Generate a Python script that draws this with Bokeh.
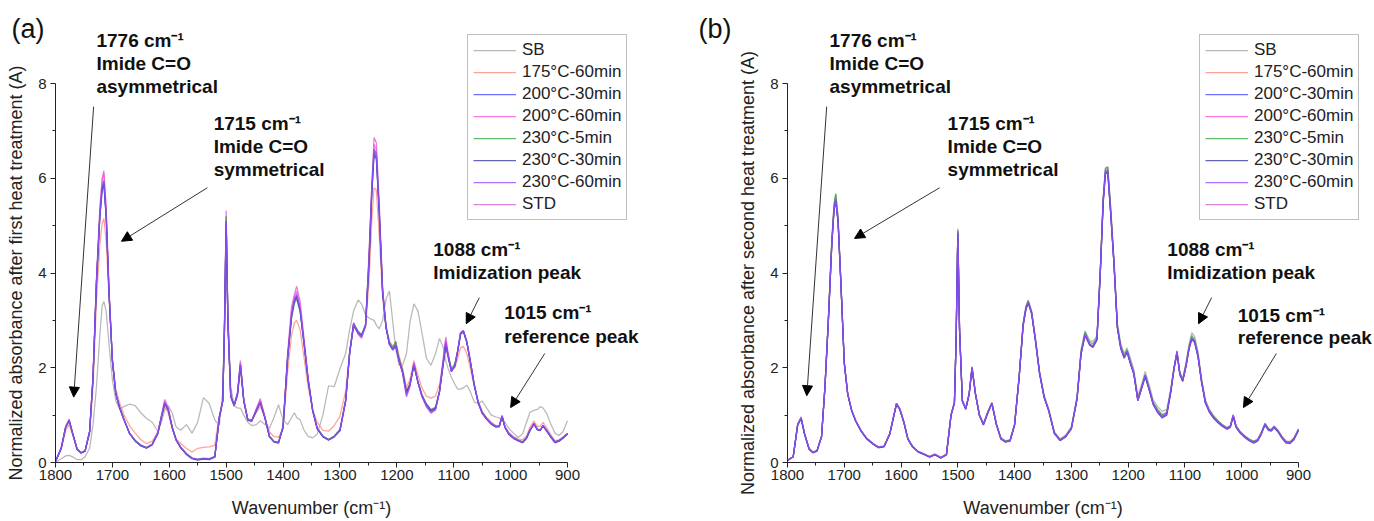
from bokeh.plotting import figure
from bokeh.models import (Range1d, FixedTicker, Legend, LegendItem, Label, Arrow,
                          NormalHead, ColumnDataSource)
from bokeh.layouts import row
from bokeh.embed import file_html
from bokeh.resources import INLINE

# ---------------- data ----------------
WAVENUMBER = [
    1800, 1790, 1782, 1776, 1770, 1762, 1755, 1748, 1740, 1734,
    1728, 1722, 1718, 1715, 1711, 1706, 1700, 1694, 1687, 1680,
    1670, 1660, 1650, 1640, 1630, 1620, 1614, 1608, 1602, 1595,
    1588, 1580, 1570, 1560, 1550, 1540, 1530, 1520, 1512, 1506,
    1503, 1500, 1497, 1492, 1486, 1480, 1475, 1469, 1462, 1455,
    1447, 1440, 1432, 1424, 1416, 1408, 1400, 1392, 1385, 1380,
    1376, 1370, 1363, 1356, 1348, 1340, 1330, 1320, 1310, 1300,
    1290, 1283, 1276, 1268, 1262, 1255, 1249, 1244, 1240, 1236,
    1231, 1225, 1219, 1213, 1207, 1202, 1196, 1190, 1183, 1177,
    1170, 1163, 1156, 1148, 1140, 1132, 1125, 1119, 1114, 1109,
    1104, 1098, 1093, 1088, 1083, 1077, 1071, 1064, 1057, 1050,
    1042, 1034, 1026, 1020, 1015, 1010, 1003, 995, 987, 979,
    972, 966, 959, 953, 948, 943, 936, 929, 922, 915,
    908, 900]

SERIES = ["SB", "175°C-60min", "200°C-30min", "200°C-60min",
          "230°C-5min", "230°C-30min", "230°C-60min", "STD"]

# ---- panel (a): after first heat treatment ----
SB_A = [
    0.00, 0.08, 0.14, 0.15, 0.12, 0.06, 0.06, 0.12, 0.30, 0.80,
    1.60, 2.70, 3.30, 3.40, 3.20, 2.50, 1.75, 1.30, 1.12, 1.18,
    1.23, 1.20, 1.05, 0.93, 0.85, 0.66, 0.85, 1.10, 1.20, 1.05,
    0.75, 0.68, 0.80, 0.62, 0.85, 1.37, 1.25, 0.90, 0.78, 1.50,
    3.00, 5.10, 3.20, 1.60, 1.20, 1.15, 1.15, 1.00, 0.85, 0.78,
    0.80, 0.88, 0.80, 0.72, 0.95, 1.22, 0.90, 0.80, 0.95, 1.05,
    0.95, 0.90, 0.68, 0.55, 0.52, 0.60, 1.00, 1.62, 1.60, 1.98,
    2.30, 2.80, 3.20, 3.43, 3.35, 3.12, 3.05, 3.02, 3.00, 2.90,
    2.82, 3.00, 3.45, 3.62, 2.95, 2.40, 2.05, 2.05, 2.30, 2.95,
    3.35, 3.20, 2.75, 2.20, 2.05, 2.30, 2.62, 2.45, 2.15, 1.95,
    1.80, 1.65, 1.55, 1.55, 1.58, 1.63, 1.50, 1.28, 1.24, 1.30,
    1.15, 1.00, 0.96, 0.94, 0.92, 0.85, 0.72, 0.62, 0.53, 0.60,
    0.85, 1.06, 1.10, 1.12, 1.18, 1.15, 1.02, 0.80, 0.62, 0.57,
    0.65, 0.88]
T175_60_A = [
    0.02, 0.28, 0.68, 0.80, 0.58, 0.28, 0.21, 0.25, 0.60, 1.60,
    3.40, 4.60, 5.05, 5.15, 4.70, 3.50, 2.20, 1.55, 1.25, 1.02,
    0.78, 0.62, 0.48, 0.40, 0.45, 0.65, 0.95, 1.18, 1.05, 0.72,
    0.50, 0.40, 0.30, 0.22, 0.30, 0.32, 0.33, 0.36, 1.00, 1.30,
    2.70, 4.80, 2.90, 1.45, 1.22, 1.40, 2.00, 1.30, 0.92, 0.90,
    1.05, 1.18, 0.95, 0.65, 0.55, 0.53, 0.70, 1.90, 2.70, 2.95,
    3.00, 2.80, 2.20, 1.60, 1.12, 0.85, 0.68, 0.66, 0.78, 0.98,
    1.50, 2.35, 2.85, 2.75, 2.70, 2.85, 3.80, 5.10, 5.80, 5.75,
    4.80, 3.50, 2.85, 2.55, 2.45, 2.55, 2.25, 2.00, 1.58, 1.75,
    2.15, 1.85, 1.58, 1.40, 1.36, 1.40, 1.65, 2.10, 2.42, 2.15,
    1.95, 2.00, 2.20, 2.42, 2.45, 2.30, 2.00, 1.60, 1.30, 1.08,
    0.95, 0.85, 0.78, 0.78, 0.95, 0.76, 0.64, 0.55, 0.50, 0.48,
    0.56, 0.75, 0.88, 0.76, 0.76, 0.85, 0.72, 0.58, 0.46, 0.48,
    0.54, 0.62]
T200_30_A = [
    0.02, 0.30, 0.75, 0.88, 0.62, 0.28, 0.20, 0.24, 0.65, 1.80,
    3.80, 5.20, 5.75, 5.88, 5.20, 3.60, 2.15, 1.45, 1.15, 0.92,
    0.62, 0.46, 0.36, 0.31, 0.38, 0.62, 0.95, 1.25, 1.12, 0.75,
    0.48, 0.32, 0.18, 0.09, 0.06, 0.08, 0.07, 0.12, 0.95, 1.30,
    2.80, 5.10, 3.00, 1.40, 1.20, 1.45, 2.05, 1.30, 0.90, 0.88,
    1.10, 1.27, 0.95, 0.55, 0.44, 0.42, 0.75, 2.20, 3.10, 3.40,
    3.50, 3.20, 2.50, 1.75, 1.10, 0.72, 0.55, 0.48, 0.55, 0.68,
    1.30, 2.30, 2.92, 2.75, 2.68, 2.90, 4.20, 5.70, 6.55, 6.45,
    5.30, 3.60, 2.85, 2.50, 2.38, 2.47, 2.15, 1.92, 1.48, 1.65,
    2.06, 1.70, 1.42, 1.22, 1.10, 1.15, 1.50, 2.05, 2.52, 2.20,
    1.93, 2.05, 2.35, 2.72, 2.78, 2.55, 2.15, 1.65, 1.27, 1.05,
    0.92, 0.82, 0.76, 0.76, 0.98, 0.75, 0.60, 0.52, 0.47, 0.43,
    0.52, 0.68, 0.82, 0.70, 0.68, 0.78, 0.66, 0.54, 0.43, 0.46,
    0.52, 0.61]
T200_60_A = [
    0.02, 0.30, 0.76, 0.90, 0.62, 0.28, 0.20, 0.24, 0.65, 1.82,
    3.85, 5.30, 5.95, 6.10, 5.35, 3.65, 2.15, 1.45, 1.15, 0.92,
    0.62, 0.46, 0.36, 0.31, 0.38, 0.63, 0.97, 1.30, 1.15, 0.75,
    0.48, 0.32, 0.18, 0.09, 0.06, 0.08, 0.07, 0.12, 0.95, 1.30,
    2.85, 5.20, 3.05, 1.40, 1.20, 1.47, 2.12, 1.32, 0.90, 0.88,
    1.12, 1.32, 0.96, 0.55, 0.44, 0.42, 0.76, 2.25, 3.18, 3.50,
    3.62, 3.30, 2.55, 1.77, 1.10, 0.72, 0.55, 0.48, 0.55, 0.68,
    1.30, 2.30, 2.95, 2.72, 2.65, 2.90, 4.30, 5.85, 6.72, 6.60,
    5.40, 3.65, 2.85, 2.50, 2.40, 2.50, 2.15, 1.90, 1.42, 1.62,
    2.10, 1.70, 1.40, 1.18, 1.06, 1.12, 1.50, 2.10, 2.60, 2.22,
    1.92, 2.05, 2.36, 2.74, 2.78, 2.55, 2.15, 1.64, 1.26, 1.04,
    0.91, 0.81, 0.75, 0.76, 0.99, 0.74, 0.59, 0.51, 0.46, 0.42,
    0.51, 0.68, 0.82, 0.70, 0.68, 0.78, 0.66, 0.53, 0.42, 0.45,
    0.51, 0.60]
T230_5_A = [
    0.02, 0.30, 0.75, 0.89, 0.62, 0.28, 0.21, 0.25, 0.66, 1.80,
    3.80, 5.25, 5.82, 5.95, 5.25, 3.62, 2.16, 1.46, 1.16, 0.93,
    0.63, 0.47, 0.37, 0.32, 0.39, 0.62, 0.95, 1.26, 1.12, 0.75,
    0.48, 0.33, 0.19, 0.10, 0.07, 0.09, 0.08, 0.13, 0.96, 1.30,
    2.82, 5.20, 3.02, 1.41, 1.21, 1.45, 2.06, 1.31, 0.91, 0.89,
    1.10, 1.27, 0.95, 0.56, 0.45, 0.43, 0.75, 2.18, 3.05, 3.36,
    3.45, 3.18, 2.50, 1.75, 1.11, 0.73, 0.56, 0.49, 0.56, 0.70,
    1.32, 2.32, 2.93, 2.78, 2.70, 2.92, 4.25, 5.78, 6.62, 6.50,
    5.35, 3.62, 2.88, 2.55, 2.42, 2.55, 2.20, 1.95, 1.50, 1.66,
    2.05, 1.72, 1.44, 1.24, 1.12, 1.17, 1.50, 2.00, 2.42, 2.25,
    1.98, 2.08, 2.35, 2.70, 2.76, 2.53, 2.14, 1.65, 1.28, 1.06,
    0.93, 0.83, 0.77, 0.77, 0.97, 0.76, 0.61, 0.53, 0.48, 0.44,
    0.53, 0.69, 0.81, 0.71, 0.69, 0.77, 0.67, 0.55, 0.44, 0.47,
    0.53, 0.62]
T230_30_A = [
    0.02, 0.30, 0.75, 0.88, 0.62, 0.28, 0.20, 0.24, 0.65, 1.78,
    3.78, 5.18, 5.76, 5.90, 5.20, 3.58, 2.14, 1.45, 1.14, 0.91,
    0.61, 0.45, 0.35, 0.30, 0.37, 0.61, 0.94, 1.24, 1.11, 0.74,
    0.47, 0.31, 0.17, 0.08, 0.05, 0.07, 0.06, 0.11, 0.94, 1.29,
    2.78, 5.05, 2.98, 1.39, 1.19, 1.44, 2.04, 1.29, 0.89, 0.87,
    1.09, 1.26, 0.94, 0.54, 0.43, 0.41, 0.74, 2.20, 3.10, 3.42,
    3.52, 3.22, 2.50, 1.74, 1.09, 0.71, 0.54, 0.47, 0.54, 0.67,
    1.29, 2.29, 2.90, 2.73, 2.66, 2.88, 4.15, 5.65, 6.50, 6.40,
    5.25, 3.58, 2.84, 2.49, 2.37, 2.46, 2.14, 1.91, 1.47, 1.64,
    2.05, 1.69, 1.41, 1.21, 1.09, 1.14, 1.49, 2.04, 2.50, 2.19,
    1.92, 2.04, 2.34, 2.71, 2.77, 2.54, 2.14, 1.64, 1.26, 1.04,
    0.91, 0.81, 0.75, 0.75, 0.97, 0.74, 0.59, 0.51, 0.46, 0.42,
    0.51, 0.67, 0.81, 0.69, 0.67, 0.77, 0.65, 0.53, 0.42, 0.45,
    0.51, 0.60]
T230_60_A = [
    0.02, 0.30, 0.75, 0.89, 0.62, 0.28, 0.20, 0.24, 0.65, 1.80,
    3.82, 5.25, 5.82, 5.95, 5.25, 3.62, 2.15, 1.45, 1.15, 0.92,
    0.62, 0.46, 0.36, 0.31, 0.38, 0.62, 0.96, 1.27, 1.13, 0.75,
    0.48, 0.32, 0.18, 0.09, 0.06, 0.08, 0.07, 0.12, 0.95, 1.30,
    2.80, 5.10, 3.00, 1.40, 1.20, 1.46, 2.08, 1.31, 0.90, 0.88,
    1.11, 1.29, 0.96, 0.55, 0.44, 0.42, 0.75, 2.22, 3.13, 3.45,
    3.55, 3.24, 2.52, 1.76, 1.10, 0.72, 0.55, 0.48, 0.55, 0.68,
    1.30, 2.30, 2.92, 2.74, 2.66, 2.90, 4.25, 5.75, 6.62, 6.50,
    5.33, 3.61, 2.85, 2.50, 2.38, 2.48, 2.14, 1.90, 1.42, 1.62,
    2.08, 1.70, 1.41, 1.20, 1.05, 1.12, 1.49, 2.06, 2.55, 2.21,
    1.93, 2.05, 2.36, 2.73, 2.78, 2.55, 2.15, 1.65, 1.27, 1.05,
    0.92, 0.82, 0.76, 0.76, 0.98, 0.75, 0.60, 0.52, 0.47, 0.43,
    0.52, 0.68, 0.82, 0.70, 0.68, 0.78, 0.66, 0.54, 0.43, 0.46,
    0.52, 0.61]
STD_A = [
    0.02, 0.31, 0.77, 0.92, 0.63, 0.28, 0.20, 0.24, 0.66, 1.85,
    3.90, 5.40, 6.00, 6.16, 5.40, 3.70, 2.18, 1.46, 1.15, 0.92,
    0.62, 0.46, 0.36, 0.31, 0.38, 0.64, 0.99, 1.33, 1.17, 0.76,
    0.48, 0.32, 0.18, 0.09, 0.06, 0.08, 0.07, 0.12, 0.96, 1.32,
    2.90, 5.32, 3.10, 1.42, 1.21, 1.50, 2.15, 1.33, 0.90, 0.88,
    1.14, 1.35, 0.97, 0.55, 0.44, 0.42, 0.78, 2.30, 3.30, 3.55,
    3.72, 3.40, 2.60, 1.80, 1.12, 0.72, 0.55, 0.48, 0.55, 0.68,
    1.30, 2.32, 2.95, 2.70, 2.62, 2.90, 4.40, 5.85, 6.86, 6.75,
    5.50, 3.70, 2.86, 2.50, 2.40, 2.55, 2.15, 1.88, 1.38, 1.60,
    2.12, 1.70, 1.40, 1.17, 1.04, 1.11, 1.50, 2.15, 2.65, 2.24,
    1.92, 2.05, 2.37, 2.75, 2.78, 2.55, 2.15, 1.64, 1.26, 1.04,
    0.91, 0.81, 0.75, 0.76, 1.00, 0.74, 0.59, 0.51, 0.46, 0.42,
    0.51, 0.68, 0.83, 0.70, 0.68, 0.79, 0.66, 0.53, 0.42, 0.45,
    0.51, 0.60]

# ---- panel (b): after second heat treatment ----
SB_B = [
    0.04, 0.12, 0.82, 0.97, 0.63, 0.30, 0.22, 0.26, 0.56, 1.62,
    3.05, 4.70, 5.45, 5.67, 5.20, 3.85, 2.12, 1.46, 1.11, 0.89,
    0.67, 0.51, 0.41, 0.33, 0.35, 0.61, 0.93, 1.25, 1.13, 0.86,
    0.51, 0.35, 0.24, 0.19, 0.13, 0.18, 0.11, 0.18, 1.02, 1.28,
    2.65, 4.94, 2.85, 1.32, 1.15, 1.47, 2.02, 1.47, 1.02, 0.83,
    1.08, 1.27, 0.82, 0.52, 0.46, 0.48, 0.82, 1.83, 2.95, 3.30,
    3.42, 3.20, 2.60, 1.92, 1.42, 1.13, 0.65, 0.50, 0.58, 0.76,
    1.40, 2.38, 2.78, 2.58, 2.55, 2.68, 4.10, 5.60, 6.22, 6.24,
    5.45, 4.30, 2.95, 2.50, 2.30, 2.42, 2.20, 1.96, 1.40, 1.62,
    1.92, 1.64, 1.32, 1.18, 1.08, 1.12, 1.56, 2.02, 2.30, 1.90,
    1.78, 2.12, 2.48, 2.74, 2.66, 2.34, 1.80, 1.33, 1.13, 1.00,
    0.89, 0.80, 0.74, 0.78, 1.00, 0.78, 0.66, 0.57, 0.50, 0.45,
    0.49, 0.62, 0.83, 0.72, 0.70, 0.77, 0.68, 0.55, 0.45, 0.44,
    0.52, 0.71]
T175_60_B = [
    0.04, 0.12, 0.79, 0.92, 0.60, 0.29, 0.21, 0.25, 0.55, 1.58,
    3.00, 4.62, 5.40, 5.60, 5.12, 3.80, 2.10, 1.45, 1.10, 0.88,
    0.66, 0.50, 0.40, 0.32, 0.34, 0.60, 0.92, 1.23, 1.11, 0.85,
    0.50, 0.34, 0.23, 0.18, 0.13, 0.17, 0.11, 0.18, 1.00, 1.26,
    2.62, 4.88, 2.82, 1.30, 1.13, 1.45, 1.99, 1.45, 1.00, 0.80,
    1.05, 1.24, 0.80, 0.50, 0.45, 0.47, 0.80, 1.80, 2.88, 3.22,
    3.36, 3.14, 2.55, 1.88, 1.38, 1.10, 0.63, 0.48, 0.56, 0.73,
    1.35, 2.30, 2.70, 2.50, 2.46, 2.60, 4.05, 5.55, 6.15, 6.18,
    5.35, 4.22, 2.86, 2.42, 2.22, 2.35, 2.10, 1.88, 1.33, 1.55,
    1.83, 1.56, 1.25, 1.10, 1.00, 1.05, 1.50, 2.00, 2.32, 1.88,
    1.74, 2.05, 2.40, 2.62, 2.56, 2.26, 1.74, 1.28, 1.09, 0.97,
    0.87, 0.79, 0.73, 0.77, 0.98, 0.77, 0.65, 0.56, 0.49, 0.45,
    0.49, 0.62, 0.80, 0.71, 0.69, 0.76, 0.67, 0.54, 0.45, 0.44,
    0.51, 0.69]
T200_30_B = [
    0.04, 0.12, 0.80, 0.93, 0.60, 0.29, 0.21, 0.25, 0.55, 1.60,
    3.00, 4.60, 5.35, 5.55, 5.10, 3.80, 2.10, 1.45, 1.10, 0.88,
    0.66, 0.50, 0.40, 0.32, 0.34, 0.60, 0.92, 1.24, 1.12, 0.85,
    0.50, 0.34, 0.23, 0.18, 0.12, 0.17, 0.10, 0.17, 1.00, 1.26,
    2.60, 4.85, 2.80, 1.30, 1.13, 1.45, 2.00, 1.45, 1.00, 0.80,
    1.06, 1.25, 0.80, 0.50, 0.44, 0.46, 0.80, 1.80, 2.90, 3.25,
    3.38, 3.15, 2.55, 1.88, 1.38, 1.10, 0.62, 0.47, 0.55, 0.72,
    1.35, 2.30, 2.70, 2.50, 2.45, 2.60, 4.05, 5.50, 6.12, 6.15,
    5.30, 4.20, 2.85, 2.42, 2.22, 2.35, 2.10, 1.88, 1.32, 1.55,
    1.83, 1.55, 1.24, 1.08, 0.97, 1.03, 1.50, 2.00, 2.33, 1.87,
    1.73, 2.05, 2.40, 2.62, 2.55, 2.25, 1.73, 1.27, 1.08, 0.96,
    0.86, 0.78, 0.72, 0.76, 0.99, 0.76, 0.64, 0.55, 0.48, 0.43,
    0.47, 0.60, 0.81, 0.70, 0.68, 0.75, 0.66, 0.53, 0.43, 0.42,
    0.50, 0.69]
T200_60_B = [
    0.04, 0.12, 0.80, 0.93, 0.60, 0.29, 0.21, 0.25, 0.55, 1.60,
    3.00, 4.58, 5.32, 5.50, 5.08, 3.78, 2.10, 1.45, 1.10, 0.88,
    0.66, 0.50, 0.40, 0.32, 0.34, 0.60, 0.92, 1.24, 1.12, 0.85,
    0.50, 0.34, 0.23, 0.18, 0.12, 0.17, 0.10, 0.17, 1.00, 1.26,
    2.60, 4.85, 2.80, 1.30, 1.13, 1.45, 2.00, 1.45, 1.00, 0.80,
    1.06, 1.25, 0.80, 0.50, 0.44, 0.46, 0.80, 1.80, 2.90, 3.25,
    3.38, 3.15, 2.55, 1.88, 1.38, 1.10, 0.62, 0.47, 0.55, 0.72,
    1.35, 2.30, 2.70, 2.48, 2.44, 2.60, 4.05, 5.48, 6.10, 6.12,
    5.30, 4.18, 2.85, 2.42, 2.22, 2.35, 2.10, 1.88, 1.32, 1.55,
    1.83, 1.55, 1.24, 1.08, 0.97, 1.03, 1.50, 2.00, 2.33, 1.87,
    1.73, 2.05, 2.40, 2.62, 2.55, 2.25, 1.73, 1.27, 1.08, 0.96,
    0.86, 0.78, 0.72, 0.76, 0.99, 0.76, 0.64, 0.55, 0.48, 0.43,
    0.47, 0.60, 0.81, 0.70, 0.68, 0.75, 0.66, 0.53, 0.43, 0.42,
    0.50, 0.69]
T230_5_B = [
    0.04, 0.12, 0.81, 0.95, 0.61, 0.29, 0.21, 0.25, 0.56, 1.62,
    3.05, 4.68, 5.45, 5.67, 5.18, 3.82, 2.11, 1.45, 1.10, 0.88,
    0.66, 0.50, 0.40, 0.32, 0.34, 0.60, 0.92, 1.25, 1.12, 0.85,
    0.50, 0.34, 0.23, 0.18, 0.12, 0.17, 0.10, 0.17, 1.01, 1.27,
    2.62, 4.90, 2.82, 1.31, 1.14, 1.46, 2.01, 1.46, 1.01, 0.81,
    1.07, 1.26, 0.81, 0.51, 0.45, 0.47, 0.81, 1.82, 2.93, 3.30,
    3.42, 3.18, 2.58, 1.90, 1.40, 1.12, 0.63, 0.48, 0.56, 0.74,
    1.38, 2.35, 2.75, 2.55, 2.50, 2.64, 4.08, 5.58, 6.20, 6.24,
    5.40, 4.25, 2.90, 2.46, 2.26, 2.38, 2.14, 1.90, 1.35, 1.58,
    1.86, 1.58, 1.27, 1.12, 1.01, 1.06, 1.52, 2.02, 2.32, 1.90,
    1.75, 2.08, 2.44, 2.68, 2.60, 2.28, 1.76, 1.29, 1.10, 0.98,
    0.88, 0.79, 0.73, 0.77, 0.99, 0.77, 0.65, 0.56, 0.49, 0.44,
    0.48, 0.61, 0.82, 0.71, 0.69, 0.76, 0.67, 0.54, 0.44, 0.43,
    0.51, 0.70]
T230_30_B = [
    0.04, 0.12, 0.80, 0.93, 0.60, 0.28, 0.20, 0.24, 0.54, 1.58,
    2.98, 4.58, 5.33, 5.52, 5.08, 3.78, 2.09, 1.44, 1.09, 0.87,
    0.65, 0.49, 0.39, 0.31, 0.33, 0.59, 0.91, 1.23, 1.11, 0.84,
    0.49, 0.33, 0.22, 0.17, 0.11, 0.16, 0.09, 0.16, 0.99, 1.25,
    2.58, 4.82, 2.78, 1.29, 1.12, 1.44, 1.99, 1.44, 0.99, 0.79,
    1.05, 1.24, 0.79, 0.49, 0.43, 0.45, 0.79, 1.79, 2.89, 3.24,
    3.37, 3.14, 2.54, 1.87, 1.37, 1.09, 0.61, 0.46, 0.54, 0.71,
    1.34, 2.29, 2.68, 2.48, 2.43, 2.58, 4.00, 5.48, 6.10, 6.12,
    5.28, 4.18, 2.83, 2.40, 2.20, 2.33, 2.08, 1.86, 1.30, 1.53,
    1.81, 1.53, 1.22, 1.05, 0.94, 1.00, 1.48, 1.98, 2.31, 1.85,
    1.71, 2.03, 2.38, 2.60, 2.53, 2.23, 1.71, 1.25, 1.06, 0.94,
    0.84, 0.76, 0.70, 0.74, 0.97, 0.74, 0.62, 0.53, 0.46, 0.41,
    0.45, 0.58, 0.79, 0.68, 0.66, 0.73, 0.64, 0.51, 0.41, 0.40,
    0.48, 0.67]
T230_60_B = [
    0.04, 0.12, 0.80, 0.94, 0.60, 0.29, 0.21, 0.25, 0.55, 1.60,
    3.00, 4.62, 5.36, 5.56, 5.10, 3.80, 2.10, 1.45, 1.10, 0.88,
    0.66, 0.50, 0.40, 0.32, 0.34, 0.60, 0.92, 1.25, 1.12, 0.85,
    0.50, 0.34, 0.23, 0.18, 0.12, 0.17, 0.10, 0.17, 1.00, 1.26,
    2.60, 4.86, 2.80, 1.30, 1.13, 1.45, 2.01, 1.45, 1.00, 0.80,
    1.06, 1.25, 0.80, 0.50, 0.44, 0.46, 0.80, 1.80, 2.90, 3.26,
    3.39, 3.16, 2.55, 1.88, 1.38, 1.10, 0.62, 0.47, 0.55, 0.72,
    1.35, 2.30, 2.71, 2.50, 2.45, 2.60, 4.02, 5.52, 6.14, 6.16,
    5.32, 4.20, 2.85, 2.42, 2.22, 2.35, 2.10, 1.88, 1.31, 1.54,
    1.84, 1.55, 1.24, 1.07, 0.96, 1.02, 1.50, 2.01, 2.35, 1.88,
    1.73, 2.05, 2.40, 2.63, 2.56, 2.25, 1.73, 1.27, 1.08, 0.96,
    0.86, 0.78, 0.72, 0.76, 1.00, 0.76, 0.64, 0.55, 0.48, 0.43,
    0.47, 0.60, 0.81, 0.70, 0.68, 0.75, 0.66, 0.53, 0.43, 0.42,
    0.50, 0.69]
STD_B = [
    0.04, 0.12, 0.80, 0.94, 0.60, 0.29, 0.21, 0.25, 0.55, 1.60,
    3.02, 4.64, 5.38, 5.58, 5.12, 3.80, 2.10, 1.45, 1.10, 0.88,
    0.66, 0.50, 0.40, 0.32, 0.34, 0.60, 0.92, 1.25, 1.13, 0.85,
    0.50, 0.34, 0.23, 0.18, 0.12, 0.17, 0.10, 0.17, 1.00, 1.27,
    2.64, 4.90, 2.84, 1.31, 1.14, 1.46, 2.02, 1.46, 1.00, 0.80,
    1.07, 1.26, 0.80, 0.50, 0.44, 0.46, 0.80, 1.81, 2.92, 3.28,
    3.40, 3.17, 2.56, 1.89, 1.38, 1.10, 0.62, 0.47, 0.55, 0.72,
    1.35, 2.31, 2.72, 2.50, 2.45, 2.61, 4.05, 5.56, 6.18, 6.20,
    5.36, 4.22, 2.86, 2.42, 2.22, 2.36, 2.10, 1.88, 1.31, 1.55,
    1.84, 1.55, 1.24, 1.07, 0.96, 1.02, 1.50, 2.02, 2.36, 1.88,
    1.73, 2.05, 2.41, 2.64, 2.56, 2.25, 1.73, 1.27, 1.08, 0.96,
    0.86, 0.78, 0.72, 0.76, 1.01, 0.76, 0.64, 0.55, 0.48, 0.43,
    0.47, 0.60, 0.82, 0.70, 0.68, 0.76, 0.66, 0.53, 0.43, 0.42,
    0.50, 0.69]

PANEL_A = [SB_A, T175_60_A, T200_30_A, T200_60_A, T230_5_A, T230_30_A, T230_60_A, STD_A]
PANEL_B = [SB_B, T175_60_B, T200_30_B, T200_60_B, T230_5_B, T230_30_B, T230_60_B, STD_B]

X_TICKS = [1800, 1700, 1600, 1500, 1400, 1300, 1200, 1100, 1000, 900]
X_MINOR = [1750, 1650, 1550, 1450, 1350, 1250, 1150, 1050, 950]
Y_TICKS = [0, 2, 4, 6, 8]
Y_MINOR = [1, 3, 5, 7]

# ---------------- styles ----------------
COLORS = ["#a6a6a6", "#ff8c7c", "#4b4bff", "#ff55d8",
          "#3aa845", "#3c3ca8", "#9a4dff", "#d462d4"]
DRAW_ORDER = [0, 1, 7, 3, 4, 2, 5, 6]     # blue / violet traces end up on top
FONT = "Liberation Sans"

# annotation placement (data coordinates) : (x, y, text)
TEXTS_A = [(1728, 8.91, "1776 cm⁻¹"), (1728, 8.42, "Imide C=O"), (1728, 7.94, "asymmetrical"),
           (1522, 7.15, "1715 cm⁻¹"), (1522, 6.67, "Imide C=O"), (1522, 6.18, "symmetrical"),
           (1136, 4.49, "1088 cm⁻¹"), (1136, 4.01, "Imidization peak"),
           (1011, 3.17, "1015 cm⁻¹"), (1011, 2.66, "reference peak")]
ARROWS_A = [(1733, 7.51, 1768, 1.38), (1533, 5.80, 1684, 4.67),
            (1055, 3.48, 1078, 2.93), (940, 2.30, 1000, 1.16)]
TEXTS_B = [(1726, 8.91, "1776 cm⁻¹"), (1726, 8.42, "Imide C=O"), (1726, 7.94, "asymmetrical"),
           (1518, 7.15, "1715 cm⁻¹"), (1518, 6.67, "Imide C=O"), (1518, 6.18, "symmetrical"),
           (1131, 4.49, "1088 cm⁻¹"), (1131, 4.01, "Imidization peak"),
           (1007, 3.10, "1015 cm⁻¹"), (1007, 2.64, "reference peak")]
ARROWS_B = [(1731, 7.51, 1766, 1.41), (1532, 5.80, 1682, 4.73),
            (1053, 3.48, 1076, 2.93), (939, 2.30, 997, 1.16)]

for arr in PANEL_A + PANEL_B:
    assert len(arr) == len(WAVENUMBER), len(arr)

FIG_W, FIG_H = 687, 521
FRAME_TOP, FRAME_BOTTOM = 83, 462      # pixel rows of A = 8 and A = 0


def make_panel(tag, ylabel, data, left_px, right_px, texts, arrows):
    # the plotting frame covers the whole canvas; the axes are pinned at
    # wavenumber 1800 and absorbance 0 and bounded to the data domain
    ppx = (right_px - left_px) / 900.0
    ppy = (FRAME_BOTTOM - FRAME_TOP) / 8.0
    xr = Range1d(1800 + left_px / ppx, 900 - (FIG_W - right_px) / ppx)
    yr = Range1d(-(FIG_H - FRAME_BOTTOM) / ppy, 8 + FRAME_TOP / ppy)
    p = figure(width=FIG_W, height=FIG_H, output_backend="svg", toolbar_location=None,
               x_range=xr, y_range=yr, min_border=0,
               min_border_left=0, min_border_right=0,
               min_border_top=0, min_border_bottom=0)
    p.outline_line_color = None
    p.xgrid.visible = False
    p.ygrid.visible = False
    p.background_fill_color = "white"
    p.border_fill_color = "white"

    for ax in (p.xaxis[0], p.yaxis[0]):
        ax.axis_line_color = "#222222"
        ax.major_tick_line_color = "#222222"
        ax.minor_tick_line_color = "#222222"
        ax.major_tick_out = 5
        ax.major_tick_in = 0
        ax.minor_tick_out = 3
        ax.minor_tick_in = 0
        ax.major_label_text_font = FONT
        ax.major_label_text_font_size = "15px"
        ax.major_label_text_color = "#222222"
        ax.axis_label_text_font = FONT
        ax.axis_label_text_font_size = "18px"
        ax.axis_label_text_font_style = "normal"
        ax.axis_label_text_color = "#222222"
    p.xaxis[0].ticker = FixedTicker(ticks=X_TICKS, minor_ticks=X_MINOR)
    p.yaxis[0].ticker = FixedTicker(ticks=Y_TICKS, minor_ticks=Y_MINOR)
    p.xaxis[0].fixed_location = 0
    p.yaxis[0].fixed_location = 1800
    p.xaxis[0].bounds = (900, 1800)
    p.yaxis[0].bounds = (0, 8)
    p.xaxis[0].major_label_standoff = 2
    p.yaxis[0].major_label_standoff = 4
    p.xaxis[0].axis_label_standoff = 15
    p.yaxis[0].axis_label_standoff = 9
    p.xaxis[0].axis_label = "Wavenumber (cm⁻¹)"
    p.yaxis[0].axis_label = ylabel

    rend = {}
    for i in DRAW_ORDER:
        src = ColumnDataSource(dict(x=WAVENUMBER, y=data[i]))
        rend[i] = p.line("x", "y", source=src, line_color=COLORS[i],
                         line_width=1.25, line_alpha=0.8)
    items = [LegendItem(label=SERIES[i], renderers=[rend[i]]) for i in range(len(SERIES))]

    # legend box: left edge 412 px right of the 1800 axis, bottom at pixel row 220
    legend = Legend(items=items, location=(left_px + 412, FIG_H - 220),
                    margin=0, padding=5,
                    spacing=2, glyph_width=43, glyph_height=20, label_height=20,
                    label_standoff=6, label_text_font=FONT, label_text_font_size="17px",
                    label_text_color="#222222", border_line_color="#7f7f7f",
                    border_line_width=1, background_fill_color="white",
                    background_fill_alpha=1.0)
    p.add_layout(legend)

    for (x, y, t) in texts:
        p.add_layout(Label(x=x, y=y, text=t, text_font=FONT, text_font_style="bold",
                           text_font_size="19px", text_baseline="middle",
                           text_align="left", text_color="#111111"))
    for (x0, y0, x1, y1) in arrows:
        p.add_layout(Arrow(end=NormalHead(size=10, fill_color="black", line_color="black"),
                           x_start=x0, y_start=y0, x_end=x1, y_end=y1,
                           line_color="#333333", line_width=1))
    p.add_layout(Label(x=1800 + (left_px - 11) / ppx, y=9.14, text=tag, text_font=FONT,
                       text_font_size="27px", text_baseline="middle", text_align="left",
                       text_color="#111111"))
    return p


pa = make_panel("(a)", "Normalized absorbance after first heat treatment (A)",
                PANEL_A, 55, 567, TEXTS_A, ARROWS_A)
pb = make_panel("(b)", "Normalized absorbance after second heat treatment (A)",
                PANEL_B, 100, 611, TEXTS_B, ARROWS_B)

layout = row(pa, pb)
open("out.html", "w").write(file_html(layout, INLINE))
